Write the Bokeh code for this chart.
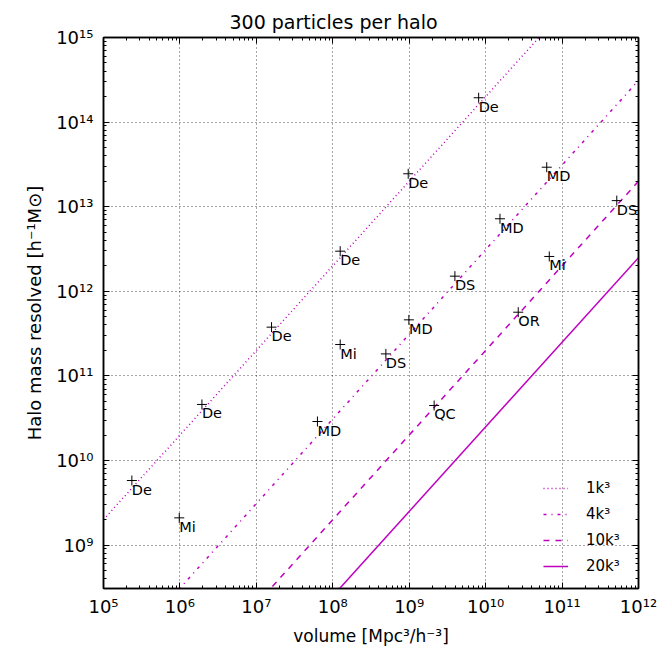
from bokeh.plotting import figure
from bokeh.models import (LogAxis, FixedTicker, CustomJSTickFormatter, ColumnDataSource,
                          Legend, LegendItem)
from bokeh.core.properties import value
from bokeh.embed import file_html
from bokeh.resources import INLINE

# ---- data ----
sim_names = ["De", "Mi", "De", "De", "De", "De", "De", "Mi", "MD", "MD", "MD", "MD",
             "DS", "DS", "DS", "Mi", "OR", "QC"]
sim_volume = [2.35e5, 9.8e5, 1.94e6, 1.58e7, 1.25e8, 9.7e8, 8.1e9, 1.25e8, 6.3e7, 9.9e8,
              1.54e10, 6.3e10, 4.95e8, 3.96e9, 5.2e11, 6.8e10, 2.67e10, 2.12e9]
sim_mass = [5.8e9, 2.1e9, 4.6e10, 3.77e11, 2.98e12, 2.45e13, 1.94e14, 2.35e11, 2.89e10, 4.6e11,
            7.2e12, 2.93e13, 1.82e11, 1.51e12, 1.18e13, 2.58e12, 5.66e11, 4.47e10]

line_labels = ["1k³", "4k³", "10k³", "20k³"]
line_volume = [1e5, 1e12]
line_mass = {
    "1k³": [2.0e9, 2.0e16],
    "4k³": [3.1e7, 3.1e14],
    "10k³": [2.0e6, 2.0e13],
    "20k³": [2.5e5, 2.5e12],
}
line_dashes = {"1k³": "1 3", "4k³": "3 5 1 5", "10k³": "6 6", "20k³": "solid"}

x_major = [1e5, 1e6, 1e7, 1e8, 1e9, 1e10, 1e11, 1e12]
y_major = [1e9, 1e10, 1e11, 1e12, 1e13, 1e14, 1e15]

FONT = "DejaVu Sans"
MAG = "#bf00bf"

p = figure(width=663, height=652, x_axis_type="log", y_axis_type="log",
           x_range=(1e5, 1e12), y_range=(3.07e8, 1e15),
           output_backend="svg", toolbar_location=None,
           min_border_left=103, min_border_right=25, min_border_top=37, min_border_bottom=64,
           title="300 particles per halo")
p.background_fill_color = "white"
p.border_fill_color = "white"
p.outline_line_color = "black"
p.outline_line_width = 1.5

p.title.align = "left"
p.title.offset = 126
p.title.text_font = FONT
p.title.text_font_size = "19px"
p.title.text_font_style = "normal"
p.title.text_color = "black"

fmt_code = """
const sup = {"0":"\u2070","1":"\u00b9","2":"\u00b2","3":"\u00b3","4":"\u2074","5":"\u2075",
             "6":"\u2076","7":"\u2077","8":"\u2078","9":"\u2079","-":"\u207b"};
const e = Math.round(Math.log10(tick));
return "10" + String(e).split("").map(c => sup[c]).join("");
"""

def minors(lo, hi):
    out = []
    for e in range(lo, hi):
        for k in range(2, 10):
            out.append(k * 10.0 ** e)
    return out

xt = FixedTicker(ticks=x_major, minor_ticks=minors(5, 12))
yt = FixedTicker(ticks=y_major, minor_ticks=minors(8, 15))

def style_axis(ax, ticker, labels=True):
    ax.ticker = ticker
    ax.major_tick_in = 6
    ax.major_tick_out = 0
    ax.minor_tick_in = 3
    ax.minor_tick_out = 0
    ax.axis_line_color = "black"
    ax.axis_line_width = 1.5
    ax.major_tick_line_color = "black"
    ax.minor_tick_line_color = "black"
    if labels:
        ax.formatter = CustomJSTickFormatter(code=fmt_code)
        ax.major_label_text_font = FONT
        ax.major_label_text_font_size = "18px"
        ax.major_label_text_color = "black"
        ax.axis_label_text_font = FONT
        ax.axis_label_text_font_size = "17px"
        ax.axis_label_text_font_style = "normal"
        ax.axis_label_text_color = "black"
    else:
        ax.formatter = CustomJSTickFormatter(code="return '';")
        ax.major_label_text_font_size = "1px"
        ax.major_label_standoff = 0

style_axis(p.xaxis[0], xt)
style_axis(p.yaxis[0], yt)
p.xaxis[0].major_label_standoff = 7
p.yaxis[0].major_label_standoff = 10
p.xaxis[0].axis_label = "volume [Mpc³/h⁻³]"
p.yaxis[0].axis_label = "Halo mass resolved [h⁻¹M⊙]"
p.yaxis[0].axis_label_text_font_size = "18px"
p.xaxis[0].axis_label_standoff = 6
p.yaxis[0].axis_label_standoff = 8

top_ax = LogAxis()
right_ax = LogAxis()
style_axis(top_ax, xt, labels=False)
style_axis(right_ax, yt, labels=False)
p.add_layout(top_ax, "above")
p.add_layout(right_ax, "right")

p.xgrid.ticker = xt
p.ygrid.ticker = yt
for g in (p.xgrid, p.ygrid):
    g.grid_line_color = "black"
    g.grid_line_dash = "1 3"
    g.grid_line_alpha = 0.7
    g.grid_line_width = 1

items = []
for lab in line_labels:
    r = p.line(line_volume, line_mass[lab], line_color=MAG, line_width=1.5,
               line_dash=line_dashes[lab])
    items.append(LegendItem(label=lab, renderers=[r]))

src = ColumnDataSource(dict(x=sim_volume, y=sim_mass, name=sim_names))
p.scatter("x", "y", source=src, marker="cross", size=10, line_color="black", line_width=1)
p.text("x", "y", text="name", source=src, text_font=value(FONT), text_font_size="14.5px",
       text_color="black", text_align="left", text_baseline="top", x_offset=0, y_offset=1)

leg = Legend(items=items, location="bottom_right")
leg.background_fill_alpha = 0
leg.border_line_alpha = 0
leg.label_text_font = FONT
leg.label_text_font_size = "15px"
leg.label_text_color = "black"
leg.glyph_width = 25
leg.glyph_height = 20
leg.label_height = 20
leg.label_width = 40
leg.spacing = 6
leg.margin = 4
leg.padding = 8
leg.label_standoff = 18
p.add_layout(leg, "center")

open("out.html", "w").write(file_html(p, INLINE))
